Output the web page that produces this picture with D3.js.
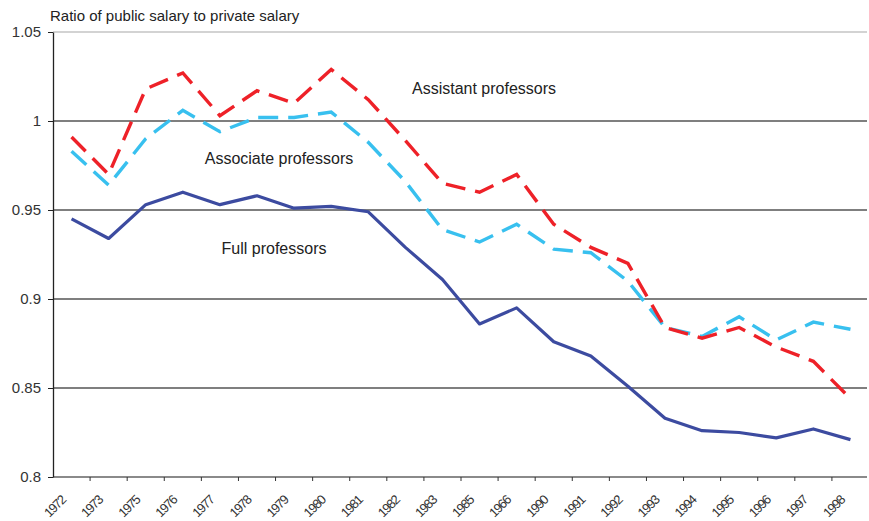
<!DOCTYPE html>
<html>
<head>
<meta charset="utf-8">
<script src="https://cdn.jsdelivr.net/npm/d3@7/dist/d3.min.js"></script>
<style>
  body { margin: 0; background: #fff; }
  svg { display: block; font-family: "Liberation Sans", Arial, sans-serif; }
</style>
</head>
<body>
<svg id="chart" width="869" height="521"></svg>
<script>
const years = ["1972","1973","1975","1976","1977","1978","1979","1980","1981","1982","1983","1985","1966","1990","1991","1992","1993","1994","1995","1996","1997","1998"];
const fullProfessors = [0.945,0.934,0.953,0.960,0.953,0.958,0.951,0.952,0.949,0.929,0.911,0.886,0.895,0.876,0.868,0.851,0.833,0.826,0.825,0.822,0.827,0.821];
const associateProfessors = [0.983,0.964,0.990,1.006,0.994,1.002,1.002,1.005,0.988,0.966,0.939,0.932,0.942,0.928,0.926,0.910,0.884,0.879,0.890,0.877,0.887,0.883];
const assistantProfessors = [0.991,0.970,1.018,1.027,1.003,1.017,1.010,1.029,1.012,0.989,0.965,0.960,0.970,0.942,0.929,0.920,0.884,0.878,0.884,0.873,0.865,0.844];
const yTicks = [0.8,0.85,0.9,0.95,1,1.05];
const yTickLabels = ["0.8","0.85","0.9","0.95","1","1.05"];
const seriesNames = ["Full professors","Associate professors","Assistant professors"];

const svg = d3.select("#chart");
const m = {left: 53, right: 869, top: 32, bottom: 477};

const x = d3.scaleBand().domain(years).range([m.left, m.right]).padding(0);
const y = d3.scaleLinear().domain([0.8, 1.05]).range([m.bottom, m.top]);

// gridlines
svg.append("g").selectAll("line").data(yTicks).join("line")
  .attr("x1", m.left).attr("x2", m.right - 2)
  .attr("y1", d => y(d)).attr("y2", d => y(d))
  .attr("stroke", d => d === 1.05 ? "#c4c4c4" : (d === 0.8 ? "#8a8a8a" : "#555"))
  .attr("stroke-width", d => d === 0.8 ? 2 : 1.3);

// y axis
const yAxis = d3.axisLeft(y).tickValues(yTicks)
  .tickFormat((d, i) => yTickLabels[i]).tickSize(5).tickSizeOuter(0);
const gy = svg.append("g").attr("transform", `translate(${m.left},0)`).call(yAxis);
gy.select(".domain").attr("stroke", "#222").attr("stroke-width", 1.3);
gy.selectAll(".tick line").attr("stroke", "#222");
gy.selectAll(".tick text").attr("font-size", 15).attr("fill", "#333")
  .attr("font-family", "Liberation Sans, Arial, sans-serif").attr("x", -12);

// x axis ticks at band boundaries
const bounds = years.map(d => x(d)).slice(1);
svg.append("g").selectAll("line").data(bounds).join("line")
  .attr("x1", d => d).attr("x2", d => d)
  .attr("y1", m.bottom).attr("y2", m.bottom + 4)
  .attr("stroke", "#333").attr("stroke-width", 1);

// x labels rotated
svg.append("g").selectAll("text").data(years).join("text")
  .attr("transform", d => `translate(${x(d) + x.bandwidth()/2 - 5},${m.bottom + 24}) rotate(-45)`)
  .attr("text-anchor", "end")
  .attr("font-size", 13).attr("fill", "#333")
  .attr("letter-spacing", -1.2)
  .text(d => d);

// lines
const line = d3.line().x((d, i) => x(years[i]) + x.bandwidth()/2).y(d => y(d));

svg.append("path").datum(fullProfessors)
  .attr("d", line).attr("fill", "none")
  .attr("stroke", "#3c4ba0").attr("stroke-width", 3.2).attr("stroke-linejoin", "round");

svg.append("path").datum(associateProfessors)
  .attr("d", line).attr("fill", "none")
  .attr("stroke", "#38c0ef").attr("stroke-width", 3.4)
  .attr("stroke-dasharray", "20,10");

svg.append("path").datum(assistantProfessors)
  .attr("d", line).attr("fill", "none")
  .attr("stroke", "#ee2128").attr("stroke-width", 3.4)
  .attr("stroke-dasharray", "20,10");

// series labels
const labelPos = [[274, 254], [279, 164], [484, 94]];
svg.append("g").selectAll("text").data(seriesNames).join("text")
  .attr("x", (d, i) => labelPos[i][0]).attr("y", (d, i) => labelPos[i][1])
  .attr("text-anchor", "middle").attr("font-size", 16).attr("fill", "#222")
  .text(d => d);

// title
svg.append("text").attr("x", 50).attr("y", 21)
  .attr("font-size", 15).attr("fill", "#222")
  .text("Ratio of public salary to private salary");
</script>
</body>
</html>
